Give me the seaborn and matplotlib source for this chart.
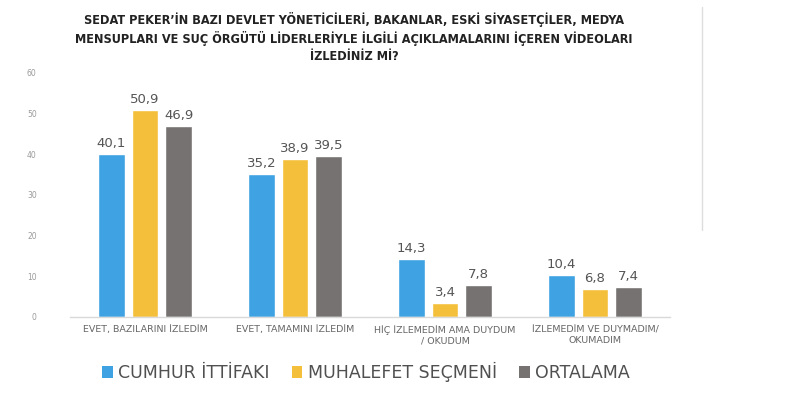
import matplotlib
matplotlib.use("Agg")
import matplotlib.pyplot as plt
import seaborn as sns
import pandas as pd
from matplotlib.lines import Line2D
from matplotlib.patches import Patch
from matplotlib import font_manager as fm

categories = ["EVET, BAZILARINI İZLEDİM", "EVET, TAMAMINI İZLEDİM",
              "HİÇ İZLEMEDİM AMA DUYDUM\n/ OKUDUM", "İZLEMEDİM VE DUYMADIM/\nOKUMADIM"]
series = ["CUMHUR İTTİFAKI", "MUHALEFET SEÇMENİ", "ORTALAMA"]
cumhur = [40.1, 35.2, 14.3, 10.4]
muhalefet = [50.9, 38.9, 3.4, 6.8]
ortalama = [46.9, 39.5, 7.8, 7.4]
yticks = [0, 10, 20, 30, 40, 50, 60]
colors = ["#3FA2E3", "#F4BF3A", "#767272"]

sns.set_theme(style="white")
plt.rcParams['font.family'] = ['DejaVu Sans']

# condensed face for the title if installed
has_cond = any("DejaVuSansCondensed-Bold" in f.fname for f in fm.fontManager.ttflist)
title_kw = dict(fontstretch="condensed") if has_cond else {}
title_size = 9.05 if has_cond else 8.2

rows = []
for s, vals in zip(series, [cumhur, muhalefet, ortalama]):
    for c, v in zip(categories, vals):
        rows.append({"cat": c, "series": s, "value": v})
df = pd.DataFrame(rows)

fig = plt.figure(figsize=(8.05, 3.95), dpi=100)
ax = fig.add_axes([70/805, 1 - 317/395, 600/805, (317 - 73)/395])

sns.barplot(data=df, x="cat", y="value", hue="series", order=categories,
            hue_order=series, palette=colors, width=0.67, gap=0.22,
            saturation=1, legend=False, ax=ax)

for cont in ax.containers:
    ax.bar_label(cont, labels=[f"{v:.1f}".replace(".", ",") for v in cont.datavalues],
                 padding=3, fontsize=9.5, color="#555555")

ax.set_ylim(0, 60)
ax.set_xlim(-0.5, 3.5)
ax.set_yticks(yticks)
ax.set_yticklabels([str(t) for t in yticks], fontsize=5.5, color="#9a9a9a")
ax.tick_params(axis="y", length=0, pad=24)
ax.tick_params(axis="x", length=0, pad=6, labelsize=6.8, labelcolor="#666666")
ax.set_xlabel("")
ax.set_ylabel("")
for sp in ["top", "right", "left"]:
    ax.spines[sp].set_visible(False)
ax.spines["bottom"].set_color("#d9d9d9")
ax.spines["bottom"].set_linewidth(1)

fig.text(354/805, 1 - 37.5/395,
         "SEDAT PEKER’İN BAZI DEVLET YÖNETİCİLERİ, BAKANLAR, ESKİ SİYASETÇİLER, MEDYA\n"
         "MENSUPLARI VE SUÇ ÖRGÜTÜ LİDERLERİYLE İLGİLİ AÇIKLAMALARINI İÇEREN VİDEOLARI\n"
         "İZLEDİNİZ Mİ?",
         ha="center", va="center", fontsize=title_size, fontweight="bold", color="#222222",
         linespacing=1.4, **title_kw)

handles = [Patch(facecolor=c, edgecolor="none") for c in colors]
fig.legend(handles, series, loc="center", bbox_to_anchor=(366/805, 1 - 372/395),
           ncol=3, frameon=False, fontsize=12.5, handlelength=0.6, handleheight=0.7,
           handletextpad=0.3, columnspacing=1.3, labelcolor="#505050")

fig.add_artist(Line2D([702/805, 702/805], [1 - 7/395, 1 - 230/395],
                      color="#dddddd", lw=1, transform=fig.transFigure))

fig.savefig("out.png", dpi=100, facecolor="white")
